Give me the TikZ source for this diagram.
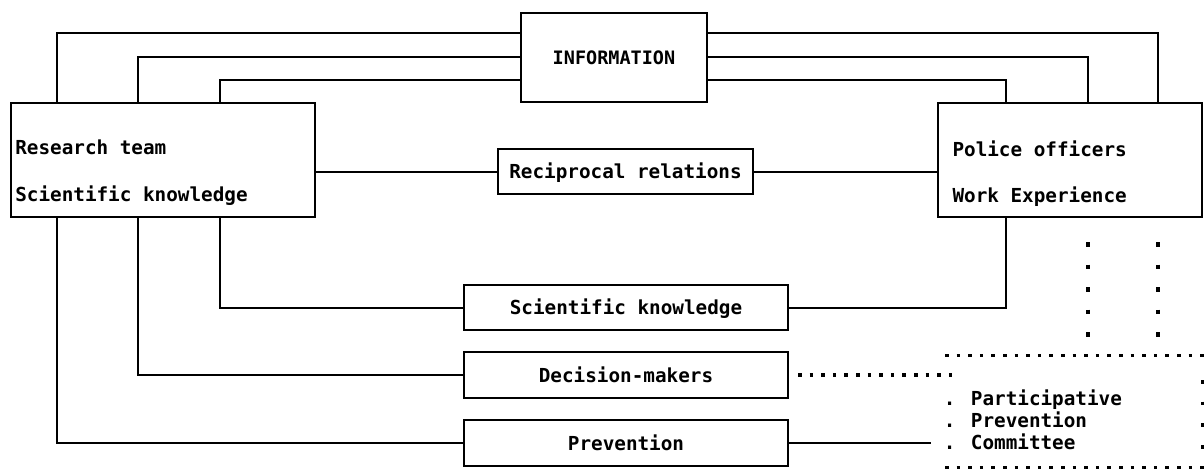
\documentclass[tikz,border=0pt]{standalone}
\usepackage{fontspec}
\newfontfamily\dmono{DejaVu Sans Mono}
\begin{document}
\begin{tikzpicture}[x=1pt,y=-1pt,
  txt/.style={inner sep=0pt, outer sep=0pt, font=\dmono\bfseries\fontsize{19.3}{22}\selectfont},
  box/.style={draw, line width=2pt, inner sep=0pt, outer sep=0pt, anchor=north west,
    text height=14pt, text depth=0pt, font=\dmono\bfseries\fontsize{19.3}{22}\selectfont},
  conn/.style={line width=2pt},
  hdots/.style={line width=3.5pt, dash pattern=on 3.5pt off 8.1pt},
  cdots/.style={line width=4.5pt, dash pattern=on 4.5pt off 18pt},
  rdots/.style={line width=3.5pt, dash pattern=on 3.5pt off 18.2pt},
]
\useasboundingbox (0,0) rectangle (1204,469);
% boxes
\node[box, minimum width=304pt, minimum height=114pt] (rt) at (10.7,103) {};
\node[box, minimum width=264pt, minimum height=114pt] (po) at (938,103) {};
\node[box, minimum width=186pt, minimum height=89pt, text height=13pt, font=\dmono\bfseries\fontsize{18.5}{22}\selectfont] (info) at (521,13) {INFORMATION};
\node[box, minimum width=255pt, minimum height=45pt] (rec) at (498,149) {Reciprocal relations};
\node[box, minimum width=324pt, minimum height=45pt] (sk) at (464,285) {Scientific knowledge};
\node[box, minimum width=324pt, minimum height=46pt] (dm) at (464,352) {Decision-makers};
\node[box, minimum width=324pt, minimum height=46pt] (pv) at (464,420) {Prevention};
% texts in big boxes
\node[txt, anchor=base west] (rt1) at (15.3,154) {Research team};
\node[txt, anchor=base west] (rt2) at (15.3,201) {Scientific knowledge};
\node[txt, anchor=base west] (po1) at (952.5,156) {Police officers};
\node[txt, anchor=base west] (po2) at (952.5,202) {Work Experience};
\node[txt, anchor=base west] (c1) at (943.8,405) {. Participative};
\node[txt, anchor=base west] (c2) at (943.8,427) {. Prevention};
\node[txt, anchor=base west] (c3) at (943.8,449) {. Committee};
% guide coordinates
\coordinate (xa) at (57,0);
\coordinate (xb) at (138,0);
\coordinate (xc) at (220,0);
\coordinate (xd) at (1006,0);
\coordinate (xe) at (1088,0);
\coordinate (xf) at (1158,0);
\coordinate (ya) at (0,33.3);
\coordinate (yb) at (0,57.3);
\coordinate (yc) at (0,80);
% connectors
\draw[conn] (rt.north -| xa) |- (info.west |- ya);
\draw[conn] (rt.north -| xb) |- (info.west |- yb);
\draw[conn] (rt.north -| xc) |- (info.west |- yc);
\draw[conn] (info.east |- ya) -| (po.north -| xf);
\draw[conn] (info.east |- yb) -| (po.north -| xe);
\draw[conn] (info.east |- yc) -| (po.north -| xd);
\draw[conn] (rt.east |- rec.west) -- (rec.west);
\draw[conn] (rec.east) -- (po.west |- rec.east);
\draw[conn] (rt.south -| xa) |- (pv.west);
\draw[conn] (rt.south -| xb) |- (dm.west);
\draw[conn] (rt.south -| xc) |- (sk.west);
\draw[conn] (sk.east) -| (po.south -| xd);
\coordinate (dmend) at (953,375);
\coordinate (pvend) at (931,443);
\draw[hdots, shorten <=10pt] (dm.east) -- (dmend);
\draw[conn] (pv.east) -- (pvend);
% dotted frame
\coordinate (ftl) at (945,355.5);
\coordinate (ftr) at (1208,355.5);
\coordinate (fbl) at (945,467.5);
\coordinate (fbr) at (1208,467.5);
\coordinate (frt) at (1202.5,380);
\coordinate (frb) at (1202.5,452);
\draw[hdots] (ftl) -- (ftr);
\draw[hdots] (fbl) -- (fbr);
\draw[rdots] (frt) -- (frb);
% dot columns
\coordinate (d1t) at (1088,242);
\coordinate (d1b) at (1088,338);
\coordinate (d2t) at (1158,242);
\coordinate (d2b) at (1158,338);
\draw[cdots] (d1t) -- (d1b);
\draw[cdots] (d2t) -- (d2b);
\end{tikzpicture}
\end{document}
